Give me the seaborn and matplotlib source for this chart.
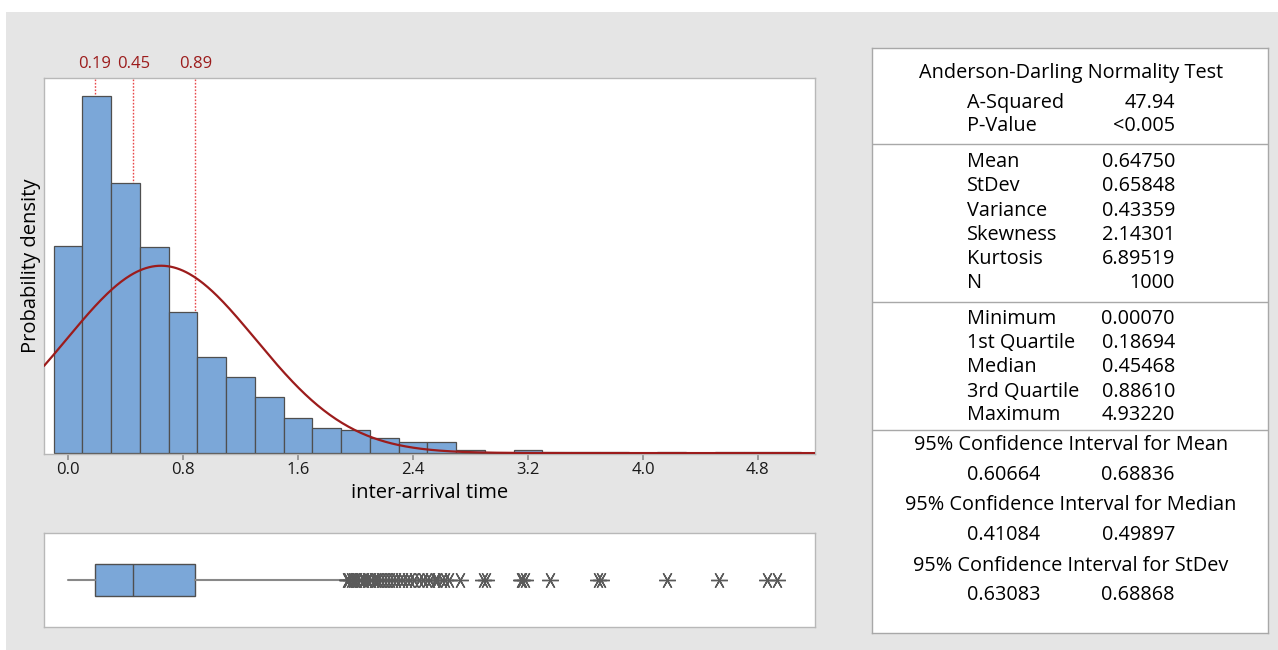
import numpy as np
import pandas as pd
import seaborn as sns
import matplotlib
matplotlib.use("Agg")
import matplotlib.pyplot as plt
from matplotlib.patches import Rectangle
from matplotlib.transforms import blended_transform_factory

# ---------------- data ----------------
N = 1000
bin_width = 0.2
bin_start = -0.1
bin_counts = [134, 231, 175, 133, 91, 62, 49, 36, 23, 16, 15, 10, 7, 7, 2, 0, 2,
              1, 1, 1, 0, 1, 0, 1, 1, 1]
mean_val = 0.64750
stdev_val = 0.65848
quartiles = [0.18694, 0.45468, 0.88610]
quartile_labels = ["0.19", "0.45", "0.89"]
min_val = 0.00070
max_val = 4.93220
whisker_hi = 1.93
outliers = [1.94, 1.95, 1.97, 1.98, 2.00, 2.01, 2.03, 2.05, 2.06, 2.08, 2.09,
            2.11, 2.13, 2.14, 2.16, 2.18, 2.20, 2.22, 2.24, 2.26, 2.28,
            2.31, 2.33, 2.36, 2.38, 2.41, 2.44, 2.47,
            2.50, 2.52, 2.55, 2.57, 2.60, 2.62, 2.65,
            2.73, 2.89, 2.91, 3.15, 3.16, 3.18, 3.35, 3.69, 3.71,
            4.17, 4.53, 4.86, 4.93]
x_ticks = [0.0, 0.8, 1.6, 2.4, 3.2, 4.0, 4.8]

ad_rows = [("A-Squared", "47.94"), ("P-Value", "<0.005")]
moment_rows = [("Mean", "0.64750"), ("StDev", "0.65848"), ("Variance", "0.43359"),
               ("Skewness", "2.14301"), ("Kurtosis", "6.89519"), ("N", "1000")]
order_rows = [("Minimum", "0.00070"), ("1st Quartile", "0.18694"), ("Median", "0.45468"),
              ("3rd Quartile", "0.88610"), ("Maximum", "4.93220")]
ci_titles = ["95% Confidence Interval for Mean",
             "95% Confidence Interval for Median",
             "95% Confidence Interval for StDev"]
ci_values = [("0.60664", "0.68836"), ("0.41084", "0.49897"), ("0.63083", "0.68868")]

# ---------------- styling ----------------
sns.set_theme(style="white")
plt.rcParams["font.family"] = ["Open Sans", "DejaVu Sans"]

W, H = 1278, 650
BAR = "#7ba7d8"
EDGE = "#4f4f4f"
DARKRED = "#9c1c1c"
SPINE = "#b8b8b8"
TXT = "#000000"

fig = plt.figure(figsize=(W / 100, H / 100), dpi=100, facecolor="white")
fig.patches.append(Rectangle((6 / W, 0), 1, (H - 12) / H, transform=fig.transFigure,
                             facecolor="#e5e5e5", edgecolor="none", zorder=-10))


def px_axes(x0, y0, x1, y1):
    return fig.add_axes([x0 / W, (H - y1) / H, (x1 - x0) / W, (y1 - y0) / H])


xmin, xmax = -0.167, 5.197

# ---------------- histogram ----------------
ax = px_axes(44, 78, 815, 454)
edges = [round(bin_start + bin_width * i, 4) for i in range(len(bin_counts) + 1)]
centers = [(edges[i] + edges[i + 1]) / 2 for i in range(len(bin_counts))]
density = [c / (N * bin_width) for c in bin_counts]
df = pd.DataFrame({"x": centers, "w": density})
sns.histplot(data=df, x="x", weights="w", bins=edges, ax=ax, color=BAR,
             edgecolor=EDGE, linewidth=0.9, alpha=1, zorder=2)

for q in quartiles:
    ax.axvline(q, color="#e8474a", ls=(0, (1.2, 1.2)), lw=1.0, zorder=1)
trans = blended_transform_factory(ax.transData, ax.transAxes)
for q, lab in zip(quartiles, quartile_labels):
    ax.text(q, 1.038, lab, transform=trans, ha="center", va="center",
            color=DARKRED, fontsize=12, fontweight="medium")

xs = np.linspace(xmin, xmax, 500)
pdf = np.exp(-0.5 * ((xs - mean_val) / stdev_val) ** 2) / (stdev_val * np.sqrt(2 * np.pi))
sns.lineplot(x=xs, y=pdf, ax=ax, color=DARKRED, lw=1.6, zorder=3)

ax.set_xlim(xmin, xmax)
ax.set_ylim(-0.003, 1.213)
ax.set_xticks(x_ticks)
ax.set_xticklabels([f"{t:.1f}" for t in x_ticks])
ax.set_yticks([])
ax.tick_params(axis="x", bottom=True, length=4, color="#909090", labelsize=12,
               labelcolor="#1a1a1a", pad=2)
ax.set_xlabel("inter-arrival time", fontsize=14.5, color=TXT, labelpad=3)
ax.set_ylabel("Probability density", fontsize=14.5, color=TXT, labelpad=2)
for s in ax.spines.values():
    s.set_color(SPINE)
    s.set_linewidth(1.0)
ax.set_facecolor("white")

# ---------------- boxplot ----------------
bx = px_axes(44, 533, 815, 627)
stats = [dict(med=quartiles[1], q1=quartiles[0], q3=quartiles[2],
              whislo=min_val, whishi=whisker_hi, fliers=outliers, label="")]
star = (6, 2, 30)
common = dict(positions=[0], widths=0.34, showcaps=False, patch_artist=True,
              boxprops=dict(facecolor=BAR, edgecolor=EDGE, linewidth=1.0),
              medianprops=dict(color=EDGE, linewidth=1.0),
              whiskerprops=dict(color="#888888", linewidth=1.5),
              flierprops=dict(marker=star, markersize=12, markeredgecolor="#5a5a5a",
                              markeredgewidth=1.0, linestyle="none"))
try:
    bx.bxp(stats, orientation="horizontal", **common)
except TypeError:
    bx.bxp(stats, vert=False, **common)
bx.set_xlim(xmin, xmax)
bx.set_ylim(-0.5, 0.5)
bx.set_xticks([])
bx.set_yticks([])
for s in bx.spines.values():
    s.set_color(SPINE)
    s.set_linewidth(1.0)
bx.set_facecolor("white")

# ---------------- statistics table ----------------
tx = px_axes(872, 48, 1268, 633)
tx.set_xlim(872, 1268)
tx.set_ylim(633, 48)
tx.set_xticks([])
tx.set_yticks([])
tx.set_facecolor("white")
for s in tx.spines.values():
    s.set_color("#a8a8a8")
    s.set_linewidth(1.0)
for yy in [144, 302, 430]:
    tx.plot([872, 1268], [yy, yy], color="#a8a8a8", lw=1.0)

FS = 14.3
LX, RX, CX = 967, 1175, 1071
tkw = dict(va="center", fontsize=FS, color=TXT)
tx.text(CX, 73, "Anderson-Darling Normality Test", ha="center", **tkw)
for (lab, val), yy in zip(ad_rows, [103, 126]):
    tx.text(LX, yy, lab, ha="left", **tkw)
    tx.text(RX, yy, val, ha="right", **tkw)
for (lab, val), yy in zip(moment_rows, [162, 186, 211, 235, 259, 283]):
    tx.text(LX, yy, lab, ha="left", **tkw)
    tx.text(RX, yy, val, ha="right", **tkw)
for (lab, val), yy in zip(order_rows, [319, 343, 367, 392, 415]):
    tx.text(LX, yy, lab, ha="left", **tkw)
    tx.text(RX, yy, val, ha="right", **tkw)
for title, (lo, hi), ty, vy in zip(ci_titles, ci_values, [445, 505, 566], [475, 535, 595]):
    tx.text(CX, ty, title, ha="center", **tkw)
    tx.text(LX, vy, lo, ha="left", **tkw)
    tx.text(RX, vy, hi, ha="right", **tkw)

fig.savefig("out.png", dpi=100, facecolor="white")
